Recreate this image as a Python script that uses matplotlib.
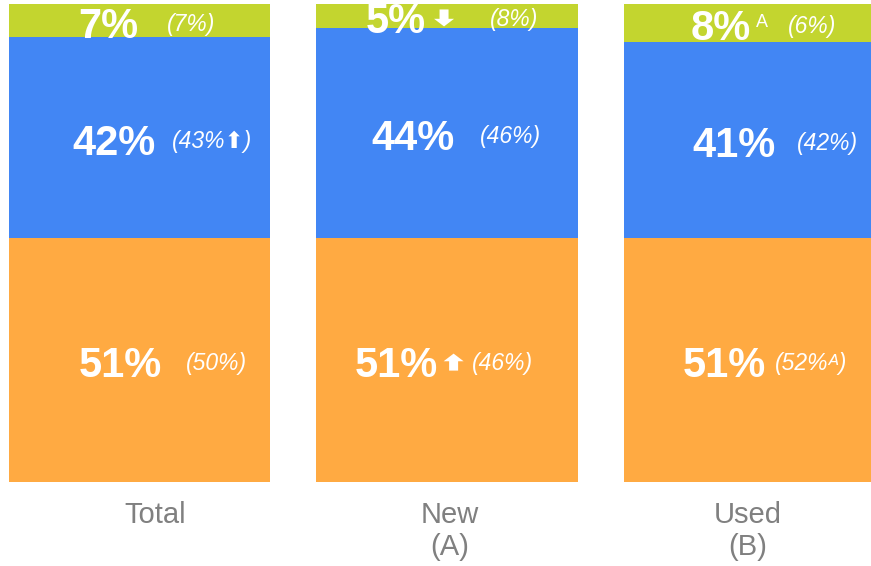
import matplotlib
matplotlib.use("Agg")
import matplotlib.pyplot as plt
import matplotlib.transforms as mtransforms
from matplotlib.patches import Polygon
import numpy as np

categories = ["Total", "New\n(A)", "Used\n(B)"]
bottom_vals = [51, 51, 51]   # orange
middle_vals = [42, 44, 41]   # blue
top_vals = [7, 5, 8]         # green

bottom_main = ["51%", "51%", "51%"]
middle_main = ["42%", "44%", "41%"]
top_main = ["7%", "5%", "8%"]
bottom_sec = ["(50%)", "(46%)", "(52%ᴬ)"]
middle_sec = ["(43%⬆)", "(46%)", "(42%)"]
top_sec = ["(7%)", "(8%)", "(6%)"]
# markers next to main value: "up", "down", "A" or ""
bottom_mark = ["", "up", ""]
middle_mark = ["", "", ""]
top_mark = ["", "down", "A"]

ORANGE = "#FFAA42"
BLUE = "#4286F4"
GREEN = "#C3D52F"
GRAY = "#808080"

fig = plt.figure(figsize=(8.71, 5.66), dpi=100)
ax = fig.add_axes([9 / 871, 1 - 482 / 566, 862 / 871, (482 - 4) / 566])

x = np.arange(len(categories))
w = 262 / 308
b1 = np.array(bottom_vals)
b2 = b1 + np.array(middle_vals)
ax.bar(x, bottom_vals, width=w, color=ORANGE, linewidth=0)
ax.bar(x, middle_vals, width=w, bottom=b1, color=BLUE, linewidth=0)
ax.bar(x, top_vals, width=w, bottom=b2, color=GREEN, linewidth=0)
ax.set_xlim(-0.5 * w, 2 + (871 - 754) / 308)
ax.set_ylim(0, 100)
ax.axis("off")

# pixel offsets from bar centre (style)
off_main = {"b": [-19, -51, -30], "m": [-26, -34, -20], "t": [-31, -51, -34]}
off_sec = {"b": [77, 56, 57], "m": [72, 64, 73], "t": [51, 67, 58]}
off_mark = {"b": [0, 6, 0], "m": [0, 0, 0], "t": [0, 8, 6]}

fam = ["Liberation Sans", "DejaVu Sans"]
MAIN_FS = 30
SEC_FS = 16.5
px = 100 / 72.0
main_base = -(0.716 * MAIN_FS * px) / 2 - 2
sec_base = -(0.716 * SEC_FS * px) / 2 - 2

arrow_up = np.array([[0, 1], [1, 0.1], [0.45, 0.1], [0.45, -1], [-0.45, -1], [-0.45, 0.1], [-1, 0.1]])

def put(seg, i, ycen, main, sec, mark):
    tm = mtransforms.offset_copy(ax.transData, fig=fig, x=off_main[seg][i], y=main_base, units="dots")
    t = ax.text(x[i], ycen, main, transform=tm, ha="center", va="baseline",
                fontsize=MAIN_FS, fontweight="bold", color="white", family=fam)
    ts = mtransforms.offset_copy(ax.transData, fig=fig, x=off_sec[seg][i], y=sec_base, units="dots")
    ax.text(x[i], ycen, sec, transform=ts, ha="center", va="baseline",
            fontsize=SEC_FS, fontstyle="italic", color="white", family=fam)
    if mark:
        fig.canvas.draw()
        bb = t.get_window_extent()
        cy = ax.transData.transform((x[i], ycen))[1] - 2
        if mark == "A":
            ax.annotate(mark, xy=(bb.x1 + off_mark[seg][i], cy + 3), xycoords="figure pixels",
                        ha="left", va="center", fontsize=13, color="white", family=fam)
        else:
            v = arrow_up.copy()
            if mark == "down":
                v[:, 1] = -v[:, 1]
            v[:, 0] = v[:, 0] * 10 + bb.x1 + off_mark[seg][i] + 10
            v[:, 1] = v[:, 1] * 8.5 + cy
            fig.add_artist(Polygon(v, closed=True, facecolor="white", edgecolor="none",
                                   transform=mtransforms.IdentityTransform()))

for i in range(len(categories)):
    put("b", i, bottom_vals[i] / 2, bottom_main[i], bottom_sec[i], bottom_mark[i])
    put("m", i, b1[i] + middle_vals[i] / 2, middle_main[i], middle_sec[i], middle_mark[i])
    put("t", i, b2[i] + top_vals[i] / 2, top_main[i], top_sec[i], top_mark[i])

cat_off = [15, 3, -7]
for i, c in enumerate(categories):
    ax.annotate(c, xy=(x[i], 0), xycoords=("data", "axes fraction"),
                xytext=(cat_off[i], -19), textcoords="offset pixels",
                ha="center", va="top", fontsize=21, color=GRAY,
                family=fam, linespacing=1.17)

fig.savefig("out.png", dpi=100)
